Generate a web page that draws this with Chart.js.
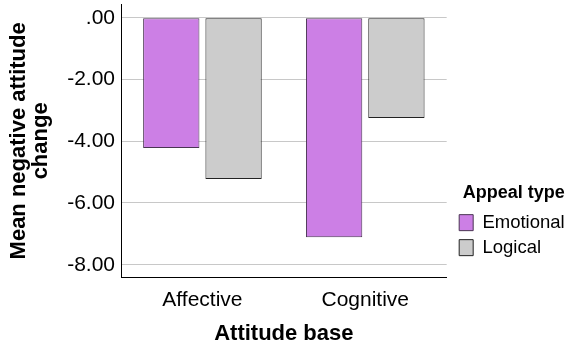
<!DOCTYPE html>
<html>
<head>
<meta charset="utf-8">
<script src="https://cdn.jsdelivr.net/npm/chart.js@4/dist/chart.umd.min.js"></script>
<style>
  html, body { margin: 0; padding: 0; background: #fff; }
  #wrap { width: 574px; height: 349px; position: relative; }
</style>
</head>
<body>
<div id="wrap"><canvas id="attitudeChart"></canvas></div>
<script>
// attitude base x appeal type, means
const categories = ["Affective", "Cognitive"];
const emotional = [-4.22, -7.11];
const logical = [-5.22, -3.25];
const yTicks = [-8, -6, -4, -2, 0];

const font = "'Liberation Sans', Arial, sans-serif";

// legend sits a bit further right than chart.js puts it
const nudgeLegend = {
  id: "nudgeLegend",
  afterLayout(chart) {
    chart.legend.left += 6;
    chart.legend.right += 6;
  }
};

new Chart(document.getElementById("attitudeChart"), {
  type: "bar",
  data: {
    labels: categories,
    datasets: [
      {
        label: "Emotional",
        data: emotional,
        backgroundColor: "#cc7fe5",
        borderColor: "#4a3553",
        borderWidth: 1,
        borderSkipped: false
      },
      {
        label: "Logical",
        data: logical,
        backgroundColor: "#cccccc",
        borderColor: "#222222",
        borderWidth: 1,
        borderSkipped: false
      }
    ]
  },
  plugins: [nudgeLegend],
  options: {
    responsive: true,
    maintainAspectRatio: false,
    animation: false,
    categoryPercentage: 0.765,
    barPercentage: 0.904,
    layout: { padding: { top: 4, left: 0, right: 5.3, bottom: 0 } },
    plugins: {
      tooltip: { enabled: false },
      legend: {
        position: "right",
        align: "start",
        title: {
          display: true,
          text: "Appeal type",
          position: "center",
          color: "#000",
          font: { family: font, size: 18, weight: "bold" },
          padding: { top: 180.3, bottom: 1 }
        },
        labels: {
          color: "#000",
          font: { family: font, size: 18.5 },
          boxWidth: 14,
          boxHeight: 16,
          padding: 6.5
        }
      }
    },
    scales: {
      x: {
        grid: { display: false, drawTicks: false },
        border: { display: true, color: "#000", width: 1 },
        afterFit: (scale) => {
          scale.height = 71.3;
        },
        ticks: {
          color: "#000",
          padding: 14,
          maxRotation: 0,
          font: { family: font, size: 21, lineHeight: 0.8 }
        },
        title: {
          display: true,
          text: "Attitude base",
          color: "#000",
          font: { family: font, size: 22, weight: "bold", lineHeight: 1 },
          padding: { top: 0, bottom: 4 }
        }
      },
      y: {
        min: -8.42,
        max: 0.444,
        grid: { color: "#c8c8c8", drawTicks: false },
        border: { display: true, color: "#000", width: 1 },
        afterBuildTicks: (scale) => {
          scale.ticks = yTicks.map((v) => ({ value: v }));
        },
        afterFit: (scale) => {
          scale.width = 121;
          scale.paddingTop = 0;
          scale.paddingBottom = 0;
        },
        ticks: {
          color: "#000",
          padding: 6,
          font: { family: font, size: 21 },
          callback: (v) => Number(v).toFixed(2).replace(/^(-?)0\./, "$1.")
        },
        title: {
          display: true,
          text: ["Mean negative attitude", "change"],
          color: "#000",
          font: { family: font, size: 22, weight: "bold", lineHeight: 1 },
          padding: { top: 8, bottom: 15 }
        }
      }
    }
  }
});
</script>
</body>
</html>
